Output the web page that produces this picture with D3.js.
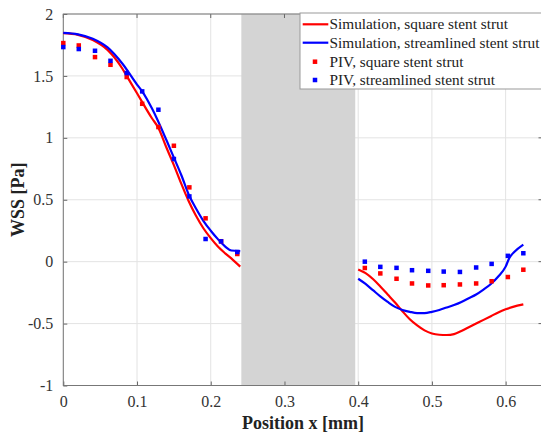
<!DOCTYPE html>
<html>
<head>
<meta charset="utf-8">
<script src="https://cdn.jsdelivr.net/npm/d3@7"></script>
<style>
  body { margin: 0; background: #fff; }
  svg, svg text { font-family: "Liberation Serif", "Times New Roman", serif; }
</style>
</head>
<body>
<div id="chart"></div>
<script>
// Datos
const xTicks = [0, 0.1, 0.2, 0.3, 0.4, 0.5, 0.6];
const yTicks = [-1, -0.5, 0, 0.5, 1, 1.5, 2];
const yTickLabels = ['-1', '-0.5', '0', '0.5', '1', '1.5', '2'];
const strutZone = [0.2415, 0.396];

// Simulación, izquierda
const simSquareLeftX = [0, 0.02, 0.04, 0.06, 0.08, 0.086, 0.1, 0.12, 0.129, 0.14, 0.15, 0.16, 0.17, 0.18, 0.19, 0.2, 0.21, 0.22, 0.23, 0.24];
const simSquareLeftY = [1.845, 1.832, 1.79, 1.71, 1.56, 1.5, 1.36, 1.16, 1.08, 0.92, 0.78, 0.63, 0.49, 0.37, 0.27, 0.19, 0.12, 0.065, 0.015, -0.04];
const simStreamLeftX = [0, 0.02, 0.04, 0.06, 0.08, 0.1, 0.107, 0.12, 0.14, 0.15, 0.16, 0.171, 0.18, 0.19, 0.2, 0.21, 0.22, 0.228, 0.24];
const simStreamLeftY = [1.848, 1.836, 1.8, 1.73, 1.6, 1.43, 1.375, 1.24, 0.98, 0.84, 0.7, 0.53, 0.43, 0.33, 0.25, 0.18, 0.12, 0.09, 0.085];

// Simulación, derecha
const simSquareRightX = [0.4, 0.41, 0.42, 0.43, 0.44, 0.45, 0.46, 0.47, 0.48, 0.49, 0.5, 0.51, 0.52, 0.53, 0.54, 0.55, 0.56, 0.57, 0.58, 0.59, 0.6, 0.61, 0.624];
const simSquareRightY = [-0.063, -0.093, -0.14, -0.2, -0.265, -0.33, -0.4, -0.465, -0.515, -0.555, -0.58, -0.59, -0.592, -0.585, -0.56, -0.53, -0.5, -0.47, -0.44, -0.41, -0.385, -0.365, -0.345];
const simStreamRightX = [0.4, 0.41, 0.42, 0.43, 0.44, 0.45, 0.46, 0.47, 0.48, 0.49, 0.5, 0.51, 0.52, 0.53, 0.54, 0.55, 0.56, 0.57, 0.58, 0.59, 0.6, 0.605, 0.612, 0.624];
const simStreamRightY = [-0.138, -0.18, -0.23, -0.28, -0.325, -0.365, -0.39, -0.405, -0.415, -0.415, -0.405, -0.39, -0.37, -0.35, -0.325, -0.295, -0.265, -0.225, -0.18, -0.12, -0.04, 0.03, 0.08, 0.138];

// PIV
const pivLeftX = [0, 0.021, 0.043, 0.064, 0.086, 0.107, 0.129, 0.150, 0.171, 0.193, 0.214, 0.236];
const pivSquareLeft = [1.765, 1.746, 1.652, 1.59, 1.491, 1.275, 1.087, 0.936, 0.6, 0.35, 0.165, 0.062];
const pivStreamLeft = [1.733, 1.717, 1.703, 1.622, 1.523, 1.375, 1.227, 0.829, 0.527, 0.183, 0.164, 0.078];
const pivRightX = [0.409, 0.430, 0.452, 0.473, 0.495, 0.516, 0.538, 0.560, 0.581, 0.603, 0.624];
const pivSquareRight = [-0.051, -0.095, -0.138, -0.176, -0.192, -0.19, -0.184, -0.176, -0.158, -0.124, -0.065];
const pivStreamRight = [0.0, -0.042, -0.05, -0.069, -0.074, -0.08, -0.083, -0.047, -0.018, 0.047, 0.068];

const legendLabels = ['Simulation, square stent strut', 'Simulation, streamlined stent strut', 'PIV, square stent strut', 'PIV, streamlined stent strut'];

//Colores
const RED = '#ff0000', BLUE = '#0000ff';
const FONT = '"Liberation Serif", "Times New Roman", serif';

let margin = {top: 14, right: -1.5, bottom: 47.5, left: 63.3},
    W = 541, H = 433,
    width = W - margin.left - margin.right,
    height = H - margin.top - margin.bottom;

let svg = d3.select('#chart').append('svg')
    .attr('width', W).attr('height', H)
    .attr('font-family', FONT);
let g = svg.append('g')
    .attr('transform', 'translate(' + margin.left + ',' + margin.top + ')');

let x = d3.scaleLinear().domain([0, 0.65]).range([0, width]);
let y = d3.scaleLinear().domain([-1, 2]).range([height, 0]);

// Rejilla
g.append('g').selectAll('line.gx').data(xTicks).enter().append('line')
    .attr('x1', d => x(d)).attr('x2', d => x(d)).attr('y1', 0).attr('y2', height)
    .attr('stroke', '#e3e3e3').attr('stroke-width', 1);
g.append('g').selectAll('line.gy').data(yTicks).enter().append('line')
    .attr('x1', 0).attr('x2', width).attr('y1', d => y(d)).attr('y2', d => y(d))
    .attr('stroke', '#e3e3e3').attr('stroke-width', 1);

// Zona del strut
g.append('rect')
    .attr('x', x(strutZone[0])).attr('width', x(strutZone[1]) - x(strutZone[0]))
    .attr('y', 0).attr('height', height)
    .attr('fill', '#d4d4d4');

// Ejes
let xAxis = function(sel) {
    sel.call(d3.axisBottom(x).tickValues(xTicks).tickSizeInner(-4).tickSizeOuter(0).tickPadding(10).tickFormat(d3.format('')));
    sel.attr('font-family', FONT).attr('font-size', 16);
    sel.select('.domain').remove();
    sel.selectAll('.tick line').attr('stroke', '#666');
    sel.selectAll('.tick text').attr('fill', '#333');
};
g.append('g').attr('transform', 'translate(0,' + height + ')').call(xAxis);

let yAxis = function(sel) {
    sel.call(d3.axisLeft(y).tickValues(yTicks).tickSizeInner(-4).tickSizeOuter(0).tickPadding(10)
        .tickFormat((d, i) => yTickLabels[i]));
    sel.attr('font-family', FONT).attr('font-size', 16);
    sel.select('.domain').remove();
    sel.selectAll('.tick line').attr('stroke', '#666');
    sel.selectAll('.tick text').attr('fill', '#333');
};
g.append('g').call(yAxis);

// ticks de la derecha y de arriba
g.append('g').selectAll('line').data(yTicks).enter().append('line')
    .attr('x1', width).attr('x2', width - 4).attr('y1', d => y(d)).attr('y2', d => y(d))
    .attr('stroke', '#666');
g.append('g').selectAll('line').data(xTicks).enter().append('line')
    .attr('x1', d => x(d)).attr('x2', d => x(d)).attr('y1', 0).attr('y2', 4)
    .attr('stroke', '#666');

// Marco
g.append('rect').attr('x', 0).attr('y', 0).attr('width', width).attr('height', height)
    .attr('fill', 'none').attr('stroke', '#777').attr('stroke-width', 1);

// Curvas
let line = d3.line().x(d => x(d[0])).y(d => y(d[1])).curve(d3.curveMonotoneX);
function zip(a, b) { return a.map((v, i) => [v, b[i]]); }

let curves = [
    [simSquareLeftX, simSquareLeftY, RED],
    [simSquareRightX, simSquareRightY, RED],
    [simStreamLeftX, simStreamLeftY, BLUE],
    [simStreamRightX, simStreamRightY, BLUE]
];
curves.forEach(function(c) {
    g.append('path').datum(zip(c[0], c[1]))
        .attr('d', line).attr('fill', 'none')
        .attr('stroke', c[2]).attr('stroke-width', 2.2);
});

// Puntos PIV
let points = [
    [pivLeftX, pivSquareLeft, RED],
    [pivRightX, pivSquareRight, RED],
    [pivLeftX, pivStreamLeft, BLUE],
    [pivRightX, pivStreamRight, BLUE]
];
let ms = 4.5;
points.forEach(function(p) {
    g.append('g').selectAll('rect').data(zip(p[0], p[1])).enter().append('rect')
        .attr('x', d => x(d[0]) - ms / 2).attr('y', d => y(d[1]) - ms / 2)
        .attr('width', ms).attr('height', ms).attr('fill', p[2]);
});

// Leyenda
let legend = svg.append('g').attr('transform', 'translate(300,13)');
legend.append('rect').attr('x', 0).attr('y', 0).attr('width', 260).attr('height', 76)
    .attr('fill', '#fff').attr('stroke', '#999').attr('stroke-width', 1);
let rowY = [11.3, 29.7, 48.7, 67];
let legColors = [RED, BLUE, RED, BLUE];
legendLabels.forEach(function(t, i) {
    if (i < 2) {
        legend.append('line').attr('x1', 2.7).attr('x2', 28.3).attr('y1', rowY[i]).attr('y2', rowY[i])
            .attr('stroke', legColors[i]).attr('stroke-width', 2.2);
    } else {
        legend.append('rect').attr('x', 15 - ms / 2).attr('y', rowY[i] - ms / 2)
            .attr('width', ms).attr('height', ms).attr('fill', legColors[i]);
    }
    legend.append('text').attr('x', 29.5).attr('y', rowY[i] + 5)
        .attr('font-family', FONT).attr('font-size', 15.3).attr('fill', '#222').text(t);
});

// Títulos de ejes
svg.append('text')
    .attr('x', margin.left + width / 2).attr('y', 429)
    .attr('text-anchor', 'middle').attr('font-family', FONT).attr('font-weight', 'bold').attr('font-size', 18).attr('fill', '#222')
    .text('Position x [mm]');
svg.append('text')
    .attr('transform', 'translate(24,' + (margin.top + height / 2) + ') rotate(-90)')
    .attr('text-anchor', 'middle').attr('font-family', FONT).attr('font-weight', 'bold').attr('font-size', 18).attr('fill', '#222')
    .text('WSS [Pa]');
</script>
</body>
</html>
